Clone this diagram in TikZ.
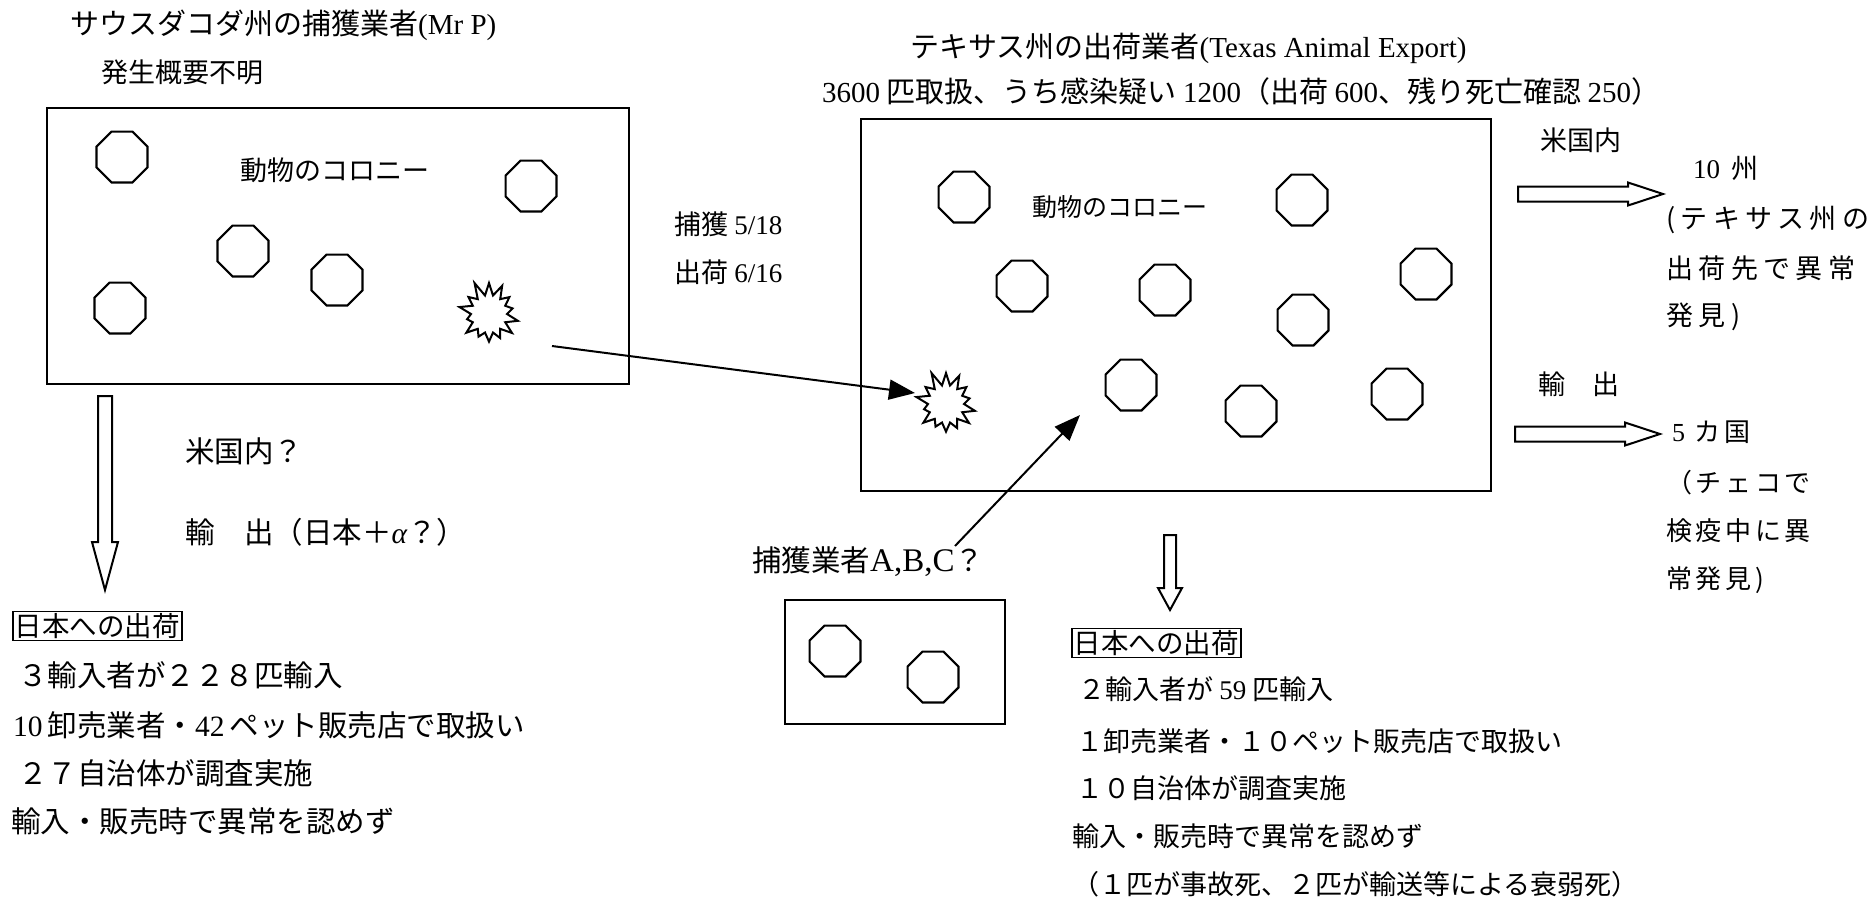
\documentclass[tikz,border=0pt]{standalone}
\usepackage{fontspec}
\setmainfont{Noto Sans CJK JP}
\newfontfamily\lat{Liberation Serif}
\usetikzlibrary{shapes.geometric,shapes.symbols,arrows.meta}
\begin{document}
\begin{tikzpicture}[x=1pt,y=-1pt,
  txt/.style={anchor=west,inner sep=0pt,font=\fontsize{27}{30}\selectfont},
  big/.style={anchor=west,inner sep=0pt,font=\fontsize{29.5}{32}\selectfont},
  ttl/.style={anchor=west,inner sep=0pt,font=\fontsize{29}{32}\selectfont},
  spa/.style={anchor=west,inner sep=0pt,font=\fontsize{27}{30}\selectfont\addfontfeature{LetterSpace=20}},
  spb/.style={anchor=west,inner sep=0pt,font=\fontsize{26}{30}\selectfont\addfontfeature{LetterSpace=14}},
  oct/.style={draw,regular polygon,regular polygon sides=8,minimum size=55pt,inner sep=0pt,line width=2.2pt},
  burst/.style={draw,starburst,starburst points=14,starburst point height=16pt,random starburst=11,minimum width=68pt,minimum height=70pt,inner sep=0pt,line width=2pt},
  colony/.style={draw,line width=2.4pt},
  tagbox/.style={draw,line width=1.6pt,anchor=west,inner sep=2pt,font=\fontsize{27.5}{30}\selectfont},
  hollow/.style={draw,line width=2pt,fill=white},
  link/.style={line width=2pt,-{Triangle[length=26pt,width=20pt]}}
]
\useasboundingbox (0,0) rectangle (1870,903);
\fill[white] (0,0) rectangle (1870,903);

% ---------- left: South Dakota trapper ----------
\node[ttl] (t1) at (70,25) {サウスダコダ州の捕獲業者{\lat (Mr P)}};
\node[txt] (t1b) at (101,72) {発生概要不明};
\draw[colony] (47,108) rectangle (629,384);
\node[txt] (col1) at (240,170) {動物のコロニー};
\node[oct] (o11) at (122,157) {};
\node[oct] (o12) at (531,186) {};
\node[oct] (o13) at (243,251) {};
\node[oct] (o14) at (337,280) {};
\node[oct] (o15) at (120,308) {};
\node[burst] (s1) at (489,314) {};

\node[txt] (cap1) at (674,224) {捕獲 {\lat 5/18}};
\node[txt] (cap2) at (674,272) {出荷 {\lat 6/16}};

% left hollow down arrow
\draw[hollow] (98,396) -- (112,396) -- (112,542) -- (118,542) -- (105,590) -- (92,542) -- (98,542) -- cycle;
\node[big] (us1) at (185,451) {米国内？};
\node[big] (ex1) at (185,532) {輸　出（日本＋{\lat\itshape α}？）};

\node[tagbox] (jp1) at (12,626) {日本への出荷};
\node[big] (l1a) at (18,675) {３輸入者が２２８匹輸入};
\node[big] (l1b) at (13,725) {{\lat 10}\hspace{5pt}卸売業者・{\lat 42}\hspace{5pt}ペット販売店で取扱い};
\node[big] (l1c) at (18,773) {２７自治体が調査実施};
\node[big] (l1d) at (11,821) {輸入・販売時で異常を認めず};

% ---------- centre: Texas exporter ----------
\node[ttl] (t2) at (910,48) {テキサス州の出荷業者{\lat (Texas Animal Export)}};
\node[ttl] (t2b) at (822,91) {{\lat 3600} 匹取扱、うち感染疑い {\lat 1200}（出荷 {\lat 600}、残り死亡確認 {\lat 250}）};
\draw[colony] (861,119) rectangle (1491,491);
\node[anchor=west,inner sep=0pt,font=\fontsize{25}{28}\selectfont] (col2) at (1032,207) {動物のコロニー};
\node[oct] (o21) at (964,197) {};
\node[oct] (o22) at (1302,200) {};
\node[oct] (o23) at (1022,286) {};
\node[oct] (o24) at (1165,290) {};
\node[oct] (o25) at (1303,320) {};
\node[oct] (o26) at (1426,274) {};
\node[oct] (o27) at (1131,385) {};
\node[oct] (o28) at (1251,411) {};
\node[oct] (o29) at (1397,394) {};
\node[burst] (s2) at (946,404) {};

% arrow from trapper to exporter
\coordinate (a1s) at (552,346);
\coordinate (a1e) at (915,393);
\draw[link] (a1s) -- (a1e);

% trappers A,B,C
\node[big] (abc) at (752,562) {捕獲業者{\lat\fontsize{33}{36}\selectfont A,B,C}？};
\draw[colony] (785,600) rectangle (1005,724);
\node[oct] (o31) at (835,651) {};
\node[oct] (o32) at (933,677) {};
\coordinate (a2s) at (955,546);
\coordinate (a2e) at (1080,415);
\draw[link] (a2s) -- (a2e);

% centre hollow down arrow
\draw[hollow] (1164,535) -- (1176,535) -- (1176,588) -- (1182,588) -- (1170,610) -- (1158,588) -- (1164,588) -- cycle;

\node[tagbox] (jp2) at (1071,643) {日本への出荷};
\node[txt] (l2a) at (1078,689) {２輸入者が {\lat 59} 匹輸入};
\node[txt] (l2b) at (1076,741) {１卸売業者・１０ペット販売店で取扱い};
\node[txt] (l2c) at (1076,788) {１０自治体が調査実施};
\node[txt] (l2d) at (1072,836) {輸入・販売時で異常を認めず};
\node[txt] (l2e) at (1072,884) {（１匹が事故死、２匹が輸送等による衰弱死）};

% ---------- right: destinations ----------
\node[txt] (us2) at (1540,140) {米国内};
\draw[hollow] (1518,186.5) -- (1628,186.5) -- (1628,182.5) -- (1663,194) -- (1628,205.5) -- (1628,201.5) -- (1518,201.5) -- cycle;
\node[spa] (d1) at (1693,168) {{\lat 10} 州};
\node[spa] (d2) at (1666,220) {(テキサス州の};
\node[spa] (d3) at (1666,268) {出荷先で異常};
\node[spa] (d4) at (1666,317) {発見)};

\node[txt] (ex2) at (1538,384) {輸　出};
\draw[hollow] (1515,426.5) -- (1625,426.5) -- (1625,422.5) -- (1660,434) -- (1625,445.5) -- (1625,441.5) -- (1515,441.5) -- cycle;
\node[spb] (e1) at (1672,432) {{\lat 5} カ国};
\node[spb] (e2) at (1666,483) {（チェコで};
\node[spb] (e3) at (1666,531) {検疫中に異};
\node[spb] (e4) at (1666,580) {常発見)};
\end{tikzpicture}
\end{document}
